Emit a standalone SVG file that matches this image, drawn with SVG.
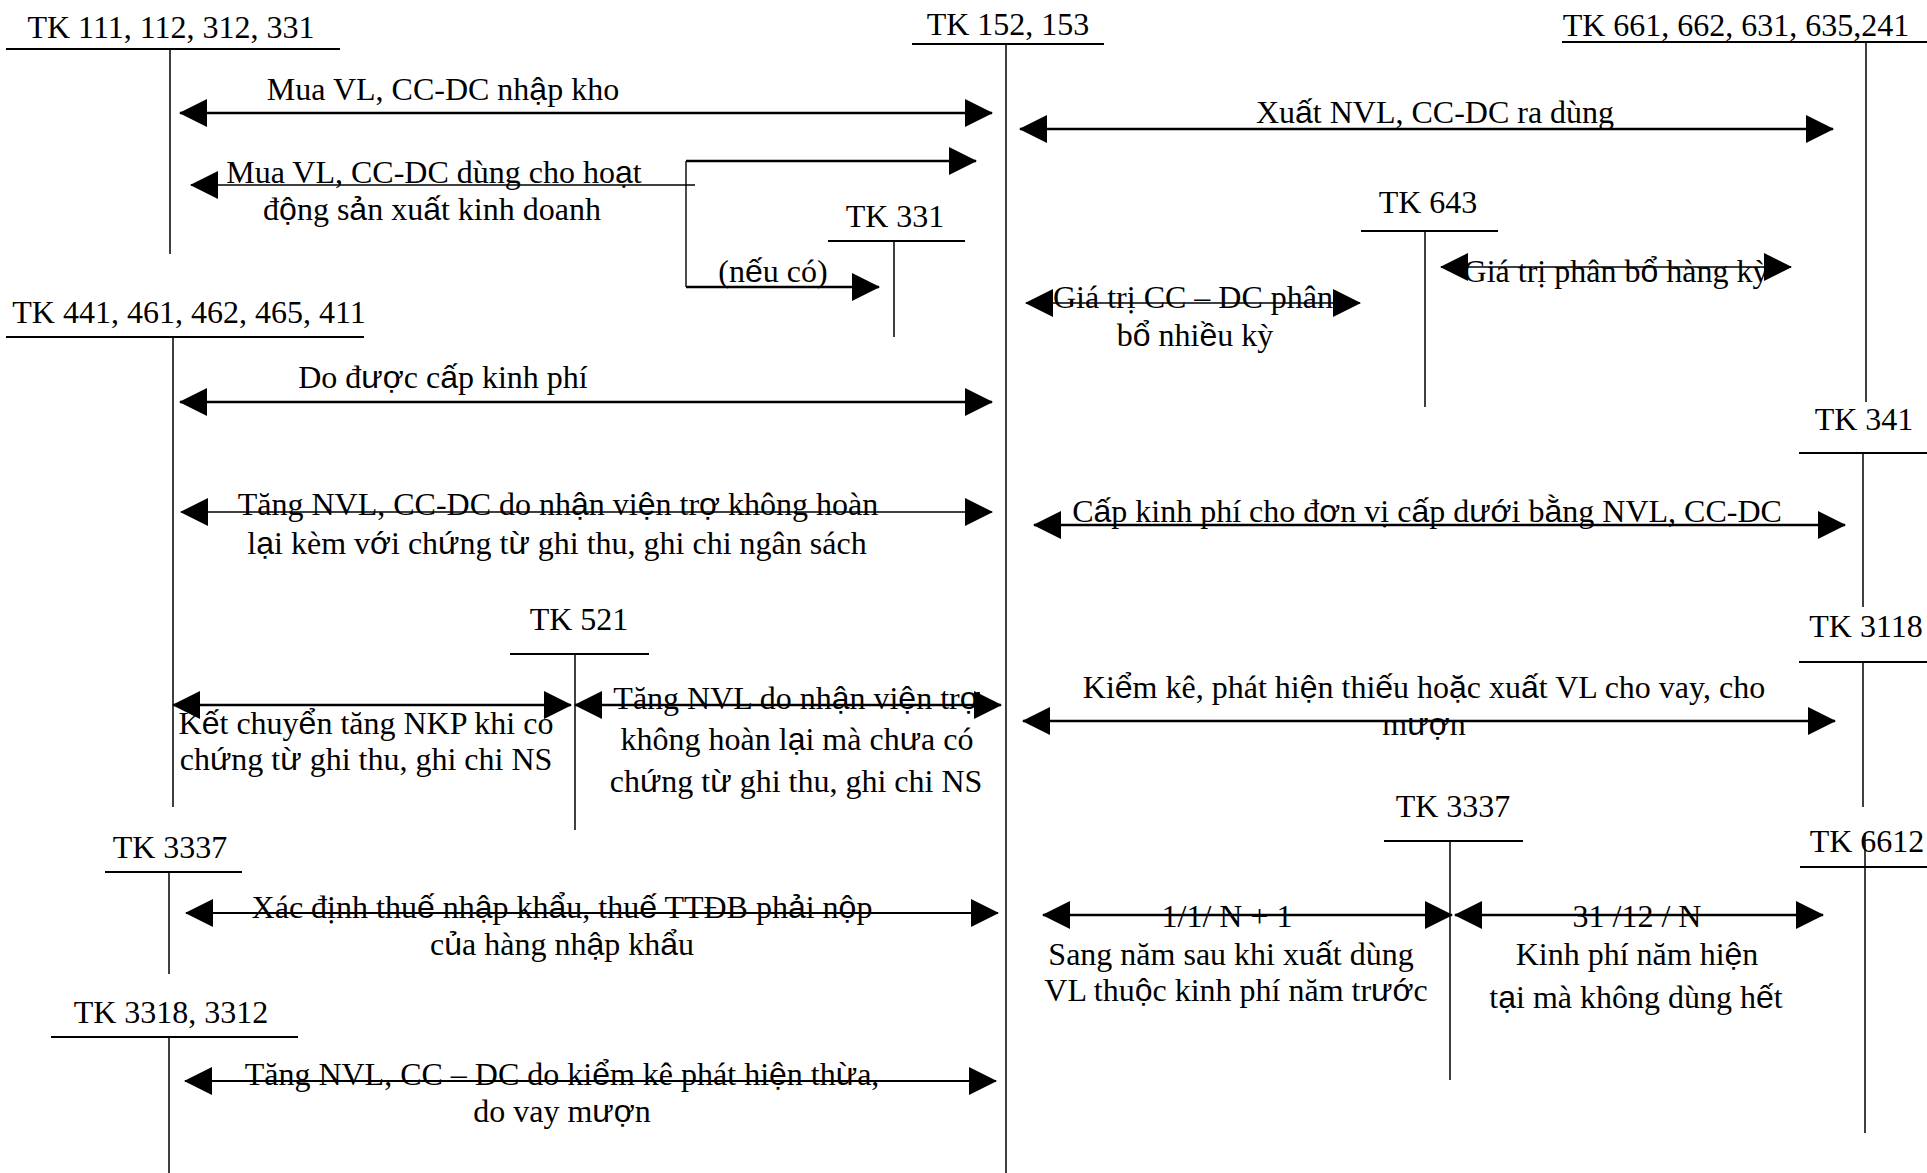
<svg xmlns="http://www.w3.org/2000/svg" width="1927" height="1173" viewBox="0 0 1927 1173">
  <defs>
    <style>
      text { font-family: "Liberation Serif", "Times New Roman", serif; font-size: 32px; fill: #000; text-anchor: middle; }
      tspan.v { font-family: "Liberation Sans", Arial, sans-serif; }
      .ul { stroke: #000; stroke-width: 2; fill: none; }
      .stem { stroke: #000; stroke-width: 1.5; fill: none; }
      .thick { stroke: #000; stroke-width: 2.6; fill: none; }
      .mid { stroke: #000; stroke-width: 2; fill: none; }
      .thin { stroke: #000; stroke-width: 1.4; fill: none; }
    </style>
    <marker id="head" markerUnits="userSpaceOnUse" markerWidth="28" markerHeight="28" refX="27" refY="14" orient="auto-start-reverse" viewBox="0 0 28 28">
      <path d="M0,0 L28,14 L0,28 Z" fill="#000"/>
    </marker>
  </defs>
  <rect width="1927" height="1173" fill="#fff"/>

  <!-- account T-lines -->
  <g id="tk-111-112-312-331">
    <text x="171" y="38">TK 111, 112, 312, 331</text>
    <line class="ul" x1="6" y1="49" x2="340" y2="49"/>
    <line class="stem" x1="170" y1="49" x2="170" y2="254"/>
  </g>
  <g id="tk-152-153">
    <text x="1008" y="35">TK 152, 153</text>
    <line class="ul" x1="912" y1="44" x2="1104" y2="44"/>
    <line class="stem" x1="1006" y1="44" x2="1006" y2="1173"/>
  </g>
  <g id="tk-661-662-631-635-241">
    <text x="1736" y="36">TK 661, 662, 631, 635,241</text>
    <line class="ul" x1="1562" y1="42" x2="1927" y2="42"/>
    <line class="stem" x1="1866" y1="42" x2="1866" y2="402"/>
  </g>
  <g id="tk-331">
    <text x="895" y="227">TK 331</text>
    <line class="ul" x1="828" y1="241" x2="965" y2="241"/>
    <line class="stem" x1="894" y1="241" x2="894" y2="337"/>
  </g>
  <g id="tk-441-461-462-465-411">
    <text x="189" y="323">TK 441, 461, 462, 465, 411</text>
    <line class="ul" x1="6" y1="337" x2="364" y2="337"/>
    <line class="stem" x1="173" y1="337" x2="173" y2="807"/>
  </g>
  <g id="tk-643">
    <text x="1428" y="213">TK 643</text>
    <line class="ul" x1="1361" y1="231" x2="1498" y2="231"/>
    <line class="stem" x1="1425" y1="231" x2="1425" y2="407"/>
  </g>
  <g id="tk-341">
    <text x="1864" y="430">TK 341</text>
    <line class="ul" x1="1799" y1="453" x2="1927" y2="453"/>
    <line class="stem" x1="1863" y1="453" x2="1863" y2="607"/>
  </g>
  <g id="tk-3118">
    <text x="1866" y="637">TK 3118</text>
    <line class="ul" x1="1799" y1="662" x2="1927" y2="662"/>
    <line class="stem" x1="1863" y1="662" x2="1863" y2="807"/>
  </g>
  <g id="tk-521">
    <text x="579" y="630">TK 521</text>
    <line class="ul" x1="510" y1="654" x2="649" y2="654"/>
    <line class="stem" x1="575" y1="654" x2="575" y2="830"/>
  </g>
  <g id="tk-3337-right">
    <text x="1453" y="817">TK 3337</text>
    <line class="ul" x1="1384" y1="841" x2="1523" y2="841"/>
    <line class="stem" x1="1450" y1="841" x2="1450" y2="1080"/>
  </g>
  <g id="tk-6612">
    <text x="1867" y="852">TK 6612</text>
    <line class="ul" x1="1800" y1="867" x2="1927" y2="867"/>
    <line class="stem" x1="1865" y1="833" x2="1865" y2="1133"/>
  </g>
  <g id="tk-3337-left">
    <text x="170" y="858">TK 3337</text>
    <line class="ul" x1="105" y1="872" x2="242" y2="872"/>
    <line class="stem" x1="169" y1="872" x2="169" y2="974"/>
  </g>
  <g id="tk-3318-3312">
    <text x="171" y="1023">TK 3318, 3312</text>
    <line class="ul" x1="51" y1="1037" x2="298" y2="1037"/>
    <line class="stem" x1="169" y1="1037" x2="169" y2="1173"/>
  </g>

  <!-- entries between accounts -->
  <g id="connectors">
    <line class="thick" x1="180" y1="113" x2="992" y2="113" marker-start="url(#head)" marker-end="url(#head)"/>
    <line class="thick" x1="686" y1="161" x2="976" y2="161" marker-end="url(#head)"/>
    <line class="thin" x1="695" y1="185" x2="191" y2="185" marker-end="url(#head)"/>
    <line class="thin" x1="686" y1="161" x2="686" y2="287"/>
    <line class="thick" x1="686" y1="287" x2="879" y2="287" marker-end="url(#head)"/>
    <line class="thick" x1="1020" y1="129" x2="1833" y2="129" marker-start="url(#head)" marker-end="url(#head)"/>
    <line class="thin" x1="1441" y1="267" x2="1791" y2="267" marker-start="url(#head)" marker-end="url(#head)"/>
    <line class="thin" x1="1026" y1="303" x2="1360" y2="303" marker-start="url(#head)" marker-end="url(#head)"/>
    <line class="thick" x1="180" y1="402" x2="992" y2="402" marker-start="url(#head)" marker-end="url(#head)"/>
    <line class="thin" x1="181" y1="512" x2="992" y2="512" marker-start="url(#head)" marker-end="url(#head)"/>
    <line class="thick" x1="1034" y1="525" x2="1845" y2="525" marker-start="url(#head)" marker-end="url(#head)"/>
    <line class="thick" x1="1023" y1="721" x2="1835" y2="721" marker-start="url(#head)" marker-end="url(#head)"/>
    <line class="thick" x1="173" y1="705" x2="571" y2="705" marker-start="url(#head)" marker-end="url(#head)"/>
    <line class="thick" x1="575" y1="705" x2="1001" y2="705" marker-start="url(#head)" marker-end="url(#head)"/>
    <line class="mid" x1="186" y1="913" x2="998" y2="913" marker-start="url(#head)" marker-end="url(#head)"/>
    <line class="mid" x1="185" y1="1081" x2="996" y2="1081" marker-start="url(#head)" marker-end="url(#head)"/>
    <line class="thick" x1="1043" y1="915" x2="1452" y2="915" marker-start="url(#head)" marker-end="url(#head)"/>
    <line class="thick" x1="1455" y1="915" x2="1823" y2="915" marker-start="url(#head)" marker-end="url(#head)"/>
  </g>

  <!-- entry descriptions; Vietnamese stacked-mark letters are set in the sans face -->
  <g id="entry-labels">
    <text x="443" y="100">Mua VL, CC-DC nh<tspan class="v">ậ</tspan>p kho</text>
    <text x="434" y="183">Mua VL, CC-DC dùng cho ho<tspan class="v">ạ</tspan>t</text>
    <text x="432" y="220">đ<tspan class="v">ộ</tspan>ng s<tspan class="v">ả</tspan>n xu<tspan class="v">ấ</tspan>t kinh doanh</text>
    <text x="773" y="282">(n<tspan class="v">ế</tspan>u có)</text>
    <text x="1435" y="123">Xu<tspan class="v">ấ</tspan>t NVL, CC-DC ra dùng</text>
    <text x="1616" y="282">Giá trị phân b<tspan class="v">ổ</tspan> hàng kỳ</text>
    <text x="1193" y="308">Giá trị CC – DC phân</text>
    <text x="1195" y="346">b<tspan class="v">ổ</tspan> nhi<tspan class="v">ề</tspan>u kỳ</text>
    <text x="443" y="388">Do đ<tspan class="v">ượ</tspan>c c<tspan class="v">ấ</tspan>p kinh phí</text>
    <text x="558" y="515">Tăng NVL, CC-DC do nh<tspan class="v">ậ</tspan>n vi<tspan class="v">ệ</tspan>n tr<tspan class="v">ợ</tspan> không hoàn</text>
    <text x="557" y="554">l<tspan class="v">ạ</tspan>i kèm v<tspan class="v">ớ</tspan>i ch<tspan class="v">ứ</tspan>ng t<tspan class="v">ừ</tspan> ghi thu, ghi chi ngân sách</text>
    <text x="1427" y="522">C<tspan class="v">ấ</tspan>p kinh phí cho đ<tspan class="v">ơ</tspan>n vị c<tspan class="v">ấ</tspan>p d<tspan class="v">ướ</tspan>i b<tspan class="v">ằ</tspan>ng NVL, CC-DC</text>
    <text x="1424" y="698">Ki<tspan class="v">ể</tspan>m kê, phát hi<tspan class="v">ệ</tspan>n thi<tspan class="v">ế</tspan>u ho<tspan class="v">ặ</tspan>c xu<tspan class="v">ấ</tspan>t VL cho vay, cho</text>
    <text x="1424" y="735">m<tspan class="v">ượ</tspan>n</text>
    <text x="366" y="734">K<tspan class="v">ế</tspan>t chuy<tspan class="v">ể</tspan>n tăng NKP khi có</text>
    <text x="366" y="770">ch<tspan class="v">ứ</tspan>ng t<tspan class="v">ừ</tspan> ghi thu, ghi chi NS</text>
    <text x="797" y="709">Tăng NVL do nh<tspan class="v">ậ</tspan>n vi<tspan class="v">ệ</tspan>n tr<tspan class="v">ợ</tspan></text>
    <text x="797" y="750">không hoàn l<tspan class="v">ạ</tspan>i mà ch<tspan class="v">ư</tspan>a có</text>
    <text x="796" y="792">ch<tspan class="v">ứ</tspan>ng t<tspan class="v">ừ</tspan> ghi thu, ghi chi NS</text>
    <text x="562" y="918">Xác định thu<tspan class="v">ế</tspan> nh<tspan class="v">ậ</tspan>p kh<tspan class="v">ẩ</tspan>u, thu<tspan class="v">ế</tspan> TTĐB ph<tspan class="v">ả</tspan>i n<tspan class="v">ộ</tspan>p</text>
    <text x="562" y="955">c<tspan class="v">ủ</tspan>a hàng nh<tspan class="v">ậ</tspan>p kh<tspan class="v">ẩ</tspan>u</text>
    <text x="562" y="1085">Tăng NVL, CC – DC do ki<tspan class="v">ể</tspan>m kê phát hi<tspan class="v">ệ</tspan>n th<tspan class="v">ừ</tspan>a,</text>
    <text x="562" y="1122">do vay m<tspan class="v">ượ</tspan>n</text>
    <text x="1227" y="927">1/1/ N + 1</text>
    <text x="1231" y="965">Sang năm sau khi xu<tspan class="v">ấ</tspan>t dùng</text>
    <text x="1236" y="1001">VL thu<tspan class="v">ộ</tspan>c kinh phí năm tr<tspan class="v">ướ</tspan>c</text>
    <text x="1637" y="927">31 /12 / N</text>
    <text x="1637" y="965">Kinh phí năm hi<tspan class="v">ệ</tspan>n</text>
    <text x="1636" y="1008">t<tspan class="v">ạ</tspan>i mà không dùng h<tspan class="v">ế</tspan>t</text>
  </g>
</svg>
